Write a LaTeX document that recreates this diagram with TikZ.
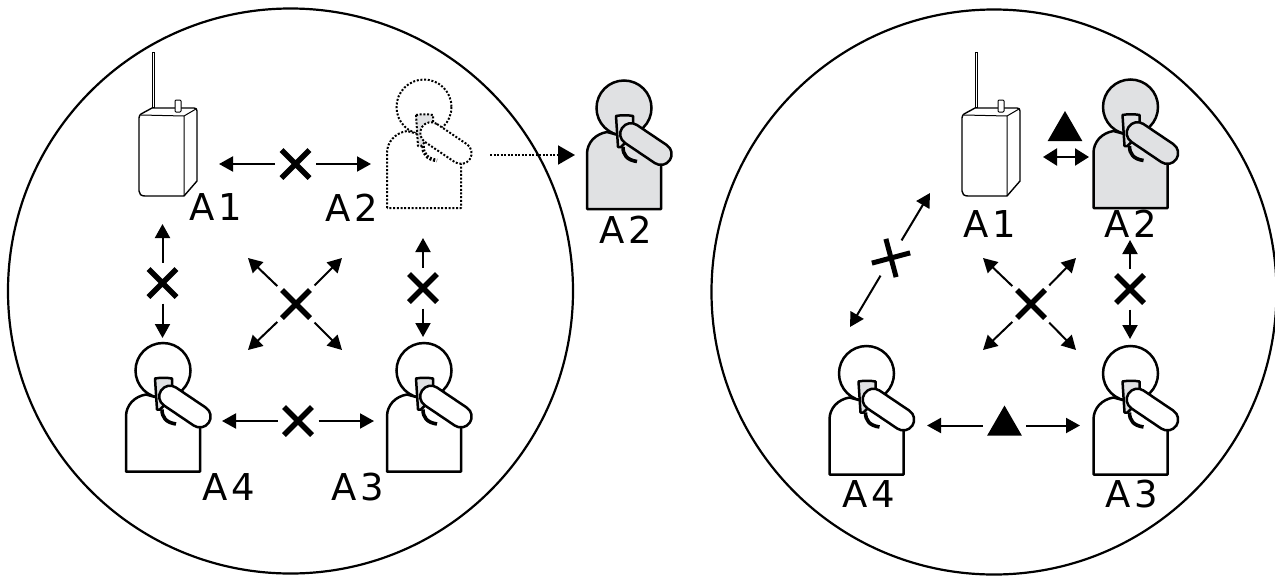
\documentclass[tikz,border=0pt]{standalone}
\usepackage{fontspec}
\setmainfont{DejaVu Sans}
\usetikzlibrary{arrows.meta,shapes.misc,shapes.geometric}
\definecolor{pgrey}{HTML}{E0E1E3}
\newcommand{\drawperson}[2]{%
  \path[draw,#2,fill=#1] (0,0) circle[radius=27.5];
  \path[draw,#2,fill=#1,line join=round] (-37,101) -- (-37,46) .. controls (-37,35) and (-29,26) .. (-17,24) -- (12,32) -- (37,57) -- (37,101) -- cycle;
  \path[draw,#2,fill=pgrey,line join=round] (-8,8) .. controls (-3,7) and (4,7) .. (9,8) -- (9,27) -- (-3,39) -- (-6,39) -- cycle;
  \path[draw,#2,line width=3.6pt] (-1,39) .. controls (-1,47) and (3,52) .. (13,53.5);
  \path[draw,#2,fill=#1,rotate around={-34:(7,26)}] (7,15.2) -- (43,15.2) arc[start angle=-90,end angle=90,radius=10.8] -- (7,36.8) arc[start angle=90,end angle=270,radius=10.8] -- cycle;
}
\tikzset{
  x=1pt,y=-1pt,
  bigcircle/.style={draw,line width=2.2pt,circle,minimum size=565pt,inner sep=0pt},
  lbl/.style={font=\fontsize{37}{37}\selectfont\addfontfeature{LetterSpace=10},inner sep=0pt,anchor=center},
  xmark/.style={cross out,draw,line width=5.5pt,minimum size=28pt,inner sep=0pt,outer sep=0pt},
  xmarktilt/.style={cross out,draw,line width=5pt,minimum size=28pt,inner sep=0pt,outer sep=0pt,rotate=-30},
  tri/.style={regular polygon,regular polygon sides=3,fill,inner sep=0pt,minimum size=40pt,outer sep=0pt},
  arr/.style={-{Triangle[length=14pt,width=15pt]},line width=2pt,shorten <=6.5pt},
  triarr/.style={arr,shorten <=10pt},
  dblarr/.style={{Triangle[length=14pt,width=17pt]}-{Triangle[length=14pt,width=17pt]},line width=2.2pt},
  dotarr/.style={-{Triangle[length=17pt,width=19pt]},line width=2pt,dash pattern=on 2pt off 1.5pt},
  solidline/.style={line width=2.5pt},
  dotline/.style={line width=2pt,dash pattern=on 2pt off 1.7pt},
  person/.pic={\drawperson{white}{solidline}},
  greyperson/.pic={\drawperson{pgrey}{solidline}},
  dotperson/.pic={\drawperson{white}{dotline}},
  radio/.pic={
    \draw[line width=.8pt,fill=white] (13,-1) rectangle (15.5,-56);
    \draw[line width=1.4pt,line join=round] (0,10) .. controls (0,8) and (1,7) .. (2,6) -- (13,0) -- (55,0) .. controls (57,0) and (58,1) .. (58,3) -- (58,73) -- (45,88) -- (6,88) .. controls (2,88) and (0,86) .. (0,83) -- cycle;
    \draw[line width=1pt] (2,7) -- (45,8) -- (45,88) (45,8) -- (57,1);
    \draw[line width=1pt,fill=white,rounded corners=1pt] (36,-8) rectangle (42,4);
  }
}
\begin{document}
\begin{tikzpicture}
\useasboundingbox (0,0) rectangle (1275,576);
\path[clip] (0,0) rectangle (1275,576);
% big circles
\node[bigcircle] (cl) at (290.5,291) {};
\node[bigcircle] (cr) at (994,292) {};

%%% left
\pic at (139,108) {radio};
\pic at (424,107) {dotperson};
\pic at (624,108) {greyperson};
\pic at (163,370.5) {person};
\pic at (424,370.5) {person};

\node[lbl] (a1l) at (216,207.5) {A1};
\node[lbl] (a2l) at (352,207.5) {A2};
\node[lbl] (a2s) at (626,229.5) {A2};
\node[lbl] (a4l) at (229,487) {A4};
\node[lbl] (a3l) at (358,487) {A3};

\node[xmark] (x1) at (295.5,164) {};
\coordinate (x1a) at (219,164); \coordinate (x1b) at (371,164);
\draw[arr] (x1) -- (x1a); \draw[arr] (x1) -- (x1b);
\node[xmark] (x2) at (162.5,283) {};
\coordinate (x2a) at (162.5,224); \coordinate (x2b) at (162.5,338);
\draw[arr] (x2) -- (x2a); \draw[arr] (x2) -- (x2b);
\node[xmark] (x3) at (423,288) {};
\coordinate (x3a) at (423,238); \coordinate (x3b) at (423,337);
\draw[arr] (x3) -- (x3a); \draw[arr] (x3) -- (x3b);
\node[xmark] (x4) at (298,421) {};
\coordinate (x4a) at (222,421); \coordinate (x4b) at (374,421);
\draw[arr] (x4) -- (x4a); \draw[arr] (x4) -- (x4b);
\node[xmark] (x5) at (296,304) {};
\coordinate (x5a) at (248,258); \coordinate (x5b) at (342,258);
\coordinate (x5c) at (248,350); \coordinate (x5d) at (342,350);
\draw[arr] (x5) -- (x5a); \draw[arr] (x5) -- (x5b);
\draw[arr] (x5) -- (x5c); \draw[arr] (x5) -- (x5d);
\coordinate (dota) at (490,155); \coordinate (dotb) at (575,155);
\draw[dotarr] (dota) -- (dotb);

%%% right
\pic at (962,108) {radio};
\pic at (1130.5,107) {greyperson};
\pic at (866.5,373.5) {person};
\pic at (1130.5,373.5) {person};
\node[lbl] (ra1) at (990,224) {A1};
\node[lbl] (ra2) at (1131,224) {A2};
\node[lbl] (ra4) at (869,494.5) {A4};
\node[lbl] (ra3) at (1132,494.5) {A3};

\node[tri] (t1) at (1065,131) {};
\coordinate (t1a) at (1043,157); \coordinate (t1b) at (1089,157);
\draw[dblarr] (t1a) -- (t1b);
\node[tri] (t2) at (1004.5,425.5) {};
\coordinate (t2a) at (927,425.5); \coordinate (t2b) at (1080,425.5);
\draw[triarr] (t2) -- (t2a); \draw[triarr] (t2) -- (t2b);
\node[xmarktilt] (x6) at (891,258) {};
\coordinate (x6a) at (930,193); \coordinate (x6b) at (850,327);
\draw[arr] (x6) -- (x6a); \draw[arr] (x6) -- (x6b);
\node[xmark] (x7) at (1130,289) {};
\coordinate (x7a) at (1130,240); \coordinate (x7b) at (1130,339);
\draw[arr] (x7) -- (x7a); \draw[arr] (x7) -- (x7b);
\node[xmark] (x8) at (1031,304) {};
\coordinate (x8a) at (983,258); \coordinate (x8b) at (1076,258);
\coordinate (x8c) at (983,350); \coordinate (x8d) at (1076,350);
\draw[arr] (x8) -- (x8a); \draw[arr] (x8) -- (x8b);
\draw[arr] (x8) -- (x8c); \draw[arr] (x8) -- (x8d);
\end{tikzpicture}
\end{document}
